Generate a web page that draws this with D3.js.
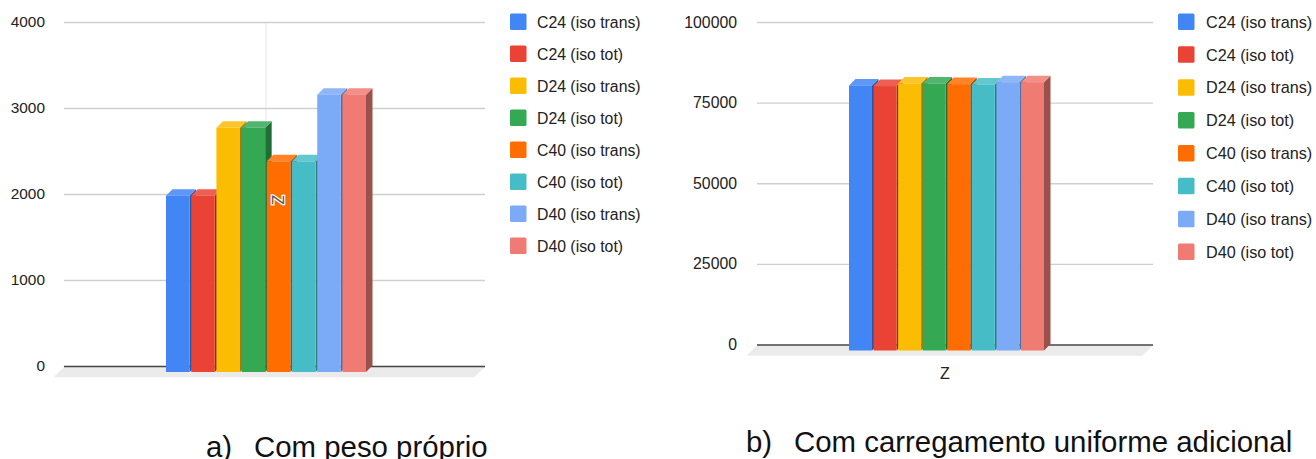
<!DOCTYPE html>
<html>
<head>
<meta charset="utf-8">
<script src="https://cdnjs.cloudflare.com/ajax/libs/d3/7.8.5/d3.min.js"></script>
<style>
    html, body { margin: 0; padding: 0; background: #fff; }
    svg { display: block; font-family: "Liberation Sans", Arial, sans-serif; }
</style>
</head>
<body>
<svg id="chart" width="1316" height="459"></svg>
<script>
// Data
const seriesNames = ["C24 (iso trans)", "C24 (iso tot)", "D24 (iso trans)", "D24 (iso tot)",
                     "C40 (iso trans)", "C40 (iso tot)", "D40 (iso trans)", "D40 (iso tot)"];
const seriesColors = ["#4285f4", "#ea4335", "#fbbc04", "#34a853", "#ff6d01", "#46bdc6", "#7baaf7", "#f07b72"];
const valuesPeso = [2050, 2050, 2840, 2840, 2450, 2450, 3225, 3225];
const valuesCarga = [82200, 82000, 82800, 82800, 82600, 82500, 83200, 83200];
const ticksPeso = [0, 1000, 2000, 3000, 4000];
const ticksCarga = [0, 25000, 50000, 75000, 100000];
const axisLabel = "Z";

const svg = d3.select("#chart");
const depth = 6.5;

function drawPanel(p) {
    const g = svg.append("g");

    const yScale = d3.scaleLinear().domain(p.domain).range([p.y0, p.y1]);
    const xScale = d3.scaleBand().domain(seriesNames).range(p.barRange).paddingInner(0.065);

    // Gridlines and tick labels
    const yAxis = d3.axisLeft(yScale)
        .tickValues(p.ticks)
        .tickFormat(d3.format("d"))
        .tickSize(p.x0 - p.x1);

    const axisG = g.append("g")
        .attr("transform", "translate(" + p.x0 + ",0)")
        .call(yAxis);
    axisG.select(".domain").remove();
    axisG.selectAll("line")
        .attr("stroke", d => d === 0 ? "#444" : "#cfcfcf")
        .attr("stroke-width", 1.3);
    axisG.selectAll("text")
        .attr("x", p.labelRight - p.x0)
        .attr("fill", "#222")
        .style("font-size", p.tickFont + "px")
        .style("font-family", "'Liberation Sans', Arial, sans-serif");

    // Floor
    g.insert("polygon", "g")
        .attr("points", [[p.x0, p.y0 + 1], [p.x1, p.y0 + 1], [p.x1 - 10.5, p.y0 + 11.2], [p.x0 - 10.5, p.y0 + 11.2]].join(" "))
        .attr("fill", "#ebebeb");

    // Vertical line for the category (only the first panel shows it)
    if (p.showCategoryLine) {
        g.insert("line", "g")
            .attr("x1", (p.x0 + p.x1) / 2 - 8.5).attr("x2", (p.x0 + p.x1) / 2 - 8.5)
            .attr("y1", p.y1).attr("y2", p.y0)
            .attr("stroke", "#e6e6e6");
    }

    // Bars: front, side and top faces
    const bottom = p.y0 + p.frontShift;
    const bars = g.selectAll(".bar")
        .data(seriesNames.map((name, i) => ({ name, value: p.values[i], color: seriesColors[i] })))
        .enter().append("g")
        .attr("class", "bar");

    bars.append("polygon")
        .attr("points", d => {
            const r = xScale(d.name) + xScale.bandwidth();
            const t = yScale(d.value) + p.frontShift;
            return [[r, t], [r + depth, t - depth], [r + depth, bottom - depth], [r, bottom]].join(" ");
        })
        .attr("fill", d => d3.interpolateRgb(d.color, "#000")(0.35));

    bars.append("polygon")
        .attr("points", d => {
            const l = xScale(d.name);
            const r = l + xScale.bandwidth();
            const t = yScale(d.value) + p.frontShift;
            return [[l, t], [l + depth, t - depth], [r + depth, t - depth], [r, t]].join(" ");
        })
        .attr("fill", d => d3.interpolateRgb(d.color, "#fff")(0.15));

    bars.append("rect")
        .attr("x", d => xScale(d.name))
        .attr("y", d => yScale(d.value) + p.frontShift)
        .attr("width", xScale.bandwidth())
        .attr("height", d => bottom - yScale(d.value) - p.frontShift)
        .attr("fill", d => d.color);

    // Category label
    if (p.labelRotated) {
        g.append("text")
            .attr("transform", "translate(" + p.labelX + "," + p.labelY + ") rotate(90)")
            .attr("text-anchor", "middle")
            .attr("dy", "0.35em")
            .attr("fill", "#555")
            .attr("stroke", "#fff")
            .attr("stroke-width", 2.5)
            .attr("paint-order", "stroke")
            .style("font-size", "16px")
            .text(axisLabel);
    } else {
        g.append("text")
            .attr("x", p.labelX)
            .attr("y", p.labelY)
            .attr("text-anchor", "middle")
            .attr("dy", "0.35em")
            .attr("fill", "#222")
            .style("font-size", "16px")
            .text(axisLabel);
    }

    // Legend
    const legendY = d3.scalePoint().domain(seriesNames).range(p.legendRange);
    const legend = g.selectAll(".legend")
        .data(seriesNames)
        .enter().append("g")
        .attr("class", "legend")
        .attr("transform", d => "translate(" + p.legendX + "," + legendY(d) + ")");

    legend.append("rect")
        .attr("x", 0).attr("y", -8.5)
        .attr("width", 16.5).attr("height", 16.5)
        .attr("rx", 1.5)
        .attr("fill", (d, i) => seriesColors[i]);

    legend.append("text")
        .attr("x", p.legendTextDx)
        .attr("dy", "0.35em")
        .attr("fill", "#222")
        .style("font-size", p.legendFont + "px")
        .text(d => d);

    // Caption
    const caption = svg.append("text")
        .attr("y", p.captionY)
        .attr("fill", "#111")
        .style("font-size", "29.4px");
    caption.append("tspan").attr("x", p.captionX).text(p.captionMark);
    caption.append("tspan").attr("x", p.captionX + 48).text(p.caption);
}

drawPanel({
    domain: [0, 4000], ticks: ticksPeso, values: valuesPeso,
    x0: 64, x1: 485, y0: 366, y1: 22, labelRight: 45, tickFont: 15.4, frontShift: 6,
    barRange: [166, 366], showCategoryLine: true,
    labelX: 278, labelY: 200, labelRotated: true,
    legendX: 510, legendTextDx: 27, legendRange: [22, 246], legendFont: 15.8,
    captionX: 206, captionY: 457, captionMark: "a)", caption: "Com peso próprio"
});

drawPanel({
    domain: [0, 100000], ticks: ticksCarga, values: valuesCarga,
    x0: 757, x1: 1153, y0: 344.5, y1: 22, labelRight: 737, tickFont: 15.8, frontShift: 6,
    barRange: [849, 1044], showCategoryLine: false,
    labelX: 945, labelY: 373, labelRotated: false,
    legendX: 1178, legendTextDx: 28, legendRange: [22, 252], legendFont: 16.2,
    captionX: 746, captionY: 452, captionMark: "b)", caption: "Com carregamento uniforme adicional"
});
</script>
</body>
</html>
